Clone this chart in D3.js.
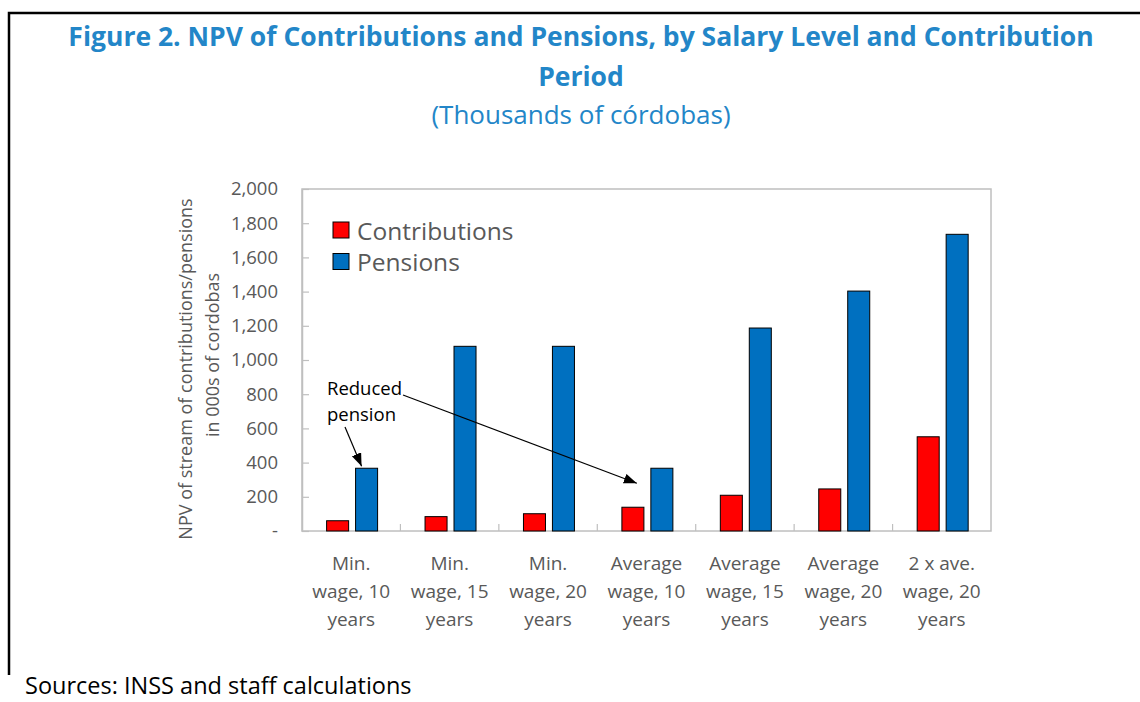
<!DOCTYPE html>
<html>
<head>
<meta charset="utf-8">
<script src="https://cdn.jsdelivr.net/npm/d3@7"></script>
<style>
  body { margin: 0; background: #fff; }
  svg { display: block; font-family: "Open Sans", "Noto Sans", sans-serif; }
</style>
</head>
<body>
<div class="chart"></div>
<script>
// data
const categories = [
  ["Min.", "wage, 10", "years"],
  ["Min.", "wage, 15", "years"],
  ["Min.", "wage, 20", "years"],
  ["Average", "wage, 10", "years"],
  ["Average", "wage, 15", "years"],
  ["Average", "wage, 20", "years"],
  ["2 x ave.", "wage, 20", "years"]
];
const seriesNames = ["Contributions", "Pensions"];
const contributions = [60, 84, 101, 139, 209, 246, 551];
const pensions = [367, 1080, 1080, 367, 1187, 1403, 1735];
const yTicks = [0, 200, 400, 600, 800, 1000, 1200, 1400, 1600, 1800, 2000];
const reducedIdx = [0, 3]; // bars the "Reduced pension" note points at

const width = 1140, height = 702;
const plot = { left: 302, right: 991, top: 189, bottom: 531 };
const colors = { Contributions: "#FF0000", Pensions: "#0070C0" };
const titleBlue = "#2386C8";
const grey = "#595959";
const axisGrey = "#BFBFBF";

const svg = d3.select(".chart").append("svg")
  .attr("width", width)
  .attr("height", height);

// frame (top + left only)
svg.append("path")
  .attr("d", `M9,${height - 27} V13 H${width}`)
  .attr("fill", "none")
  .attr("stroke", "#000")
  .attr("stroke-width", 2.5);

// titles
svg.append("text")
  .attr("x", 581).attr("y", 46)
  .attr("text-anchor", "middle")
  .style("font-weight", 700).style("font-size", "26.5px")
  .attr("fill", titleBlue)
  .text("Figure 2. NPV of Contributions and Pensions, by Salary Level and Contribution");
svg.append("text")
  .attr("x", 581).attr("y", 86)
  .attr("text-anchor", "middle")
  .style("font-weight", 700).style("font-size", "26.5px")
  .attr("fill", titleBlue)
  .text("Period");
svg.append("text")
  .attr("x", 581).attr("y", 124)
  .attr("text-anchor", "middle")
  .style("font-size", "26px")
  .attr("fill", titleBlue)
  .text("(Thousands of córdobas)");

// scales
const x = d3.scaleBand()
  .domain(d3.range(categories.length))
  .range([plot.left, plot.right]);

const xs = d3.scaleBand()
  .domain(seriesNames)
  .range([x.bandwidth() * 0.25, x.bandwidth() * 0.768])
  .paddingInner(0.24);

const y = d3.scaleLinear()
  .domain([0, 2000])
  .range([plot.bottom, plot.top]);

// plot box
svg.append("rect")
  .attr("x", plot.left).attr("y", plot.top)
  .attr("width", plot.right - plot.left)
  .attr("height", plot.bottom - plot.top)
  .attr("fill", "none")
  .attr("stroke", axisGrey)
  .attr("stroke-width", 1.5);

// y axis
const yAxis = svg.append("g")
  .attr("transform", `translate(${plot.left},0)`)
  .call(d3.axisLeft(y)
    .tickValues(yTicks)
    .tickSizeInner(-7)
    .tickSizeOuter(0)
    .tickPadding(24)
    .tickFormat(d => d === 0 ? "-" : d3.format(",")(d)));
yAxis.select(".domain").attr("stroke", axisGrey).attr("stroke-width", 1.5);
yAxis.selectAll(".tick line").attr("stroke", axisGrey).attr("stroke-width", 1.2);
yAxis.selectAll(".tick text")
  .attr("fill", grey)
  .style("font-size", "18.5px")
  .style("font-family", "'Open Sans', sans-serif");

// x boundary ticks
svg.append("g").selectAll("line")
  .data(d3.range(1, categories.length))
  .join("line")
    .attr("x1", d => x(d)).attr("x2", d => x(d))
    .attr("y1", plot.bottom).attr("y2", plot.bottom - 7)
    .attr("stroke", axisGrey)
    .attr("stroke-width", 1.2);

// x labels
const xLab = svg.append("g").selectAll("text")
  .data(categories)
  .join("text")
    .attr("text-anchor", "middle")
    .attr("fill", grey)
    .style("font-size", "19px");
xLab.selectAll("tspan")
  .data((d, i) => d.map(s => ({ s, i })))
  .join("tspan")
    .attr("x", d => x(d.i) + x.bandwidth() / 2)
    .attr("y", (d, j) => 570 + j * 28)
    .text(d => d.s);

// y axis title
const yTitle = ["NPV of stream of contributions/pensions", "in 000s of cordobas"];
svg.append("g").selectAll("text")
  .data(yTitle)
  .join("text")
    .attr("transform", (d, i) => `translate(${185 + i * 27},${369 - i * 14}) rotate(-90)`)
    .attr("text-anchor", "middle")
    .attr("dominant-baseline", "central")
    .attr("fill", grey)
    .style("font-size", "18px")
    .text(d => d);

// bars
const rows = categories.map((c, i) => ({ i, Contributions: contributions[i], Pensions: pensions[i] }));
const groups = svg.append("g").selectAll("g")
  .data(rows)
  .join("g")
    .attr("transform", d => `translate(${x(d.i)},0)`);
groups.selectAll("rect")
  .data(d => seriesNames.map(k => ({ k, v: d[k] })))
  .join("rect")
    .attr("x", d => xs(d.k))
    .attr("y", d => y(d.v))
    .attr("width", xs.bandwidth())
    .attr("height", d => y(0) - y(d.v))
    .attr("fill", d => colors[d.k])
    .attr("stroke", "#000")
    .attr("stroke-width", 1);

// legend
const legend = svg.append("g").attr("transform", "translate(333,222)");
legend.selectAll("rect")
  .data(seriesNames)
  .join("rect")
    .attr("x", 0).attr("y", (d, i) => i * 31.5)
    .attr("width", 16).attr("height", 16)
    .attr("fill", d => colors[d])
    .attr("stroke", "#000")
    .attr("stroke-width", 1);
legend.selectAll("text")
  .data(seriesNames)
  .join("text")
    .attr("x", 24).attr("y", (d, i) => i * 31.5 + 8)
    .attr("dominant-baseline", "central")
    .attr("fill", grey)
    .style("font-size", "24.5px")
    .text(d => d);

// annotation
svg.append("defs").append("marker")
  .attr("id", "arrow")
  .attr("markerUnits", "userSpaceOnUse")
  .attr("markerWidth", 14).attr("markerHeight", 12)
  .attr("refX", 13).attr("refY", 5)
  .attr("orient", "auto")
  .append("path")
    .attr("d", "M0,0 L13,5 L0,10 Z")
    .attr("fill", "#000");

const note = svg.append("text")
  .attr("fill", "#000")
  .style("font-size", "18.5px");
note.append("tspan").attr("x", 327).attr("y", 395).text("Reduced");
note.append("tspan").attr("x", 327).attr("y", 421).text("pension");

const tips = [
  { x0: 345, y0: 427, x1: x(reducedIdx[0]) + xs("Pensions") + 6, y1: y(pensions[reducedIdx[0]]) - 2 },
  { x0: 403, y0: 395, x1: x(reducedIdx[1]) + xs("Pensions") - 14, y1: y(pensions[reducedIdx[1]]) + 15 }
];
svg.append("g").selectAll("line")
  .data(tips)
  .join("line")
    .attr("x1", d => d.x0).attr("y1", d => d.y0)
    .attr("x2", d => d.x1).attr("y2", d => d.y1)
    .attr("stroke", "#000")
    .attr("stroke-width", 1.2)
    .attr("marker-end", "url(#arrow)");

// source
svg.append("text")
  .attr("x", 25).attr("y", 694)
  .attr("fill", "#000")
  .style("font-size", "23.5px")
  .text("Sources: INSS and staff calculations");
</script>
</body>
</html>
